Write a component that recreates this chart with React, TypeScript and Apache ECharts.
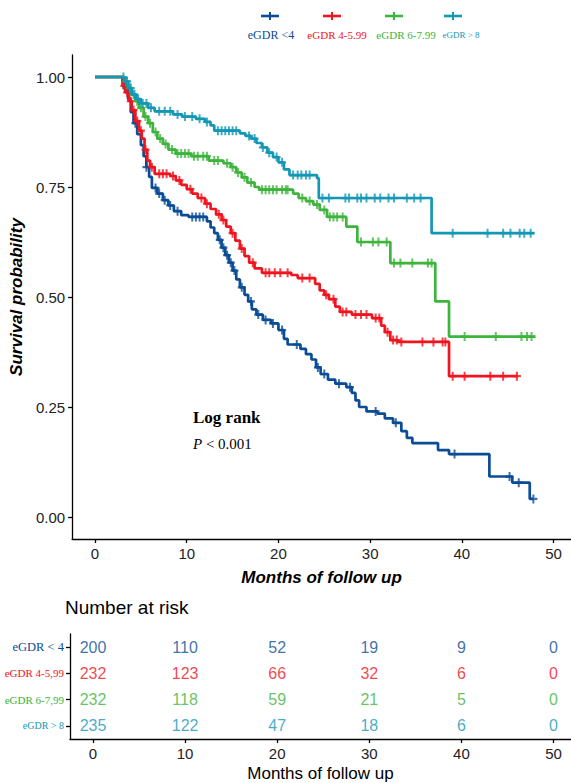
import React, { useEffect, useRef } from "react";
import * as echarts from "echarts";

// ---------- data ----------
const groupNames = ["eGDR <4", "eGDR 4-5.99", "eGDR 6-7.99", "eGDR > 8"];
const riskRowNames = ["eGDR < 4", "eGDR 4-5,99", "eGDR 6-7,99", "eGDR > 8"];
const groupColors = ["#0B4C96", "#F0141E", "#3DB43C", "#1397B5"];

const xTicks = [0, 10, 20, 30, 40, 50];
const yTicks = [0, 0.25, 0.5, 0.75, 1];

// Kaplan-Meier step points [month, survival]
const curveLt4 = [
  [0, 1], [3.0, 0.99], [3.3, 0.975], [3.6, 0.95], [3.9, 0.92], [4.2, 0.895], [4.6, 0.87], [5.0, 0.845],
  [5.3, 0.82], [5.6, 0.795], [5.9, 0.773], [6.2, 0.748], [6.8, 0.735], [7.4, 0.72], [8.0, 0.708],
  [8.6, 0.695], [9.4, 0.686], [10.2, 0.682], [12.2, 0.672], [12.6, 0.658], [13.0, 0.645], [13.4, 0.63],
  [13.8, 0.612], [14.2, 0.595], [14.6, 0.578], [15.0, 0.56], [15.4, 0.54], [15.8, 0.522], [16.3, 0.505],
  [16.7, 0.49], [17.1, 0.472], [17.6, 0.46], [18.3, 0.448], [19.2, 0.44], [20.0, 0.425], [20.6, 0.405],
  [21.0, 0.392], [22.4, 0.382], [23.0, 0.37], [23.6, 0.358], [24.1, 0.34], [24.6, 0.325], [25.4, 0.312],
  [26.2, 0.303], [27.4, 0.295], [28.0, 0.282], [28.4, 0.265], [28.8, 0.25], [29.6, 0.24], [30.8, 0.235],
  [31.6, 0.224], [32.5, 0.214], [33.4, 0.195], [34.0, 0.18], [34.6, 0.168], [37.4, 0.152], [38.6, 0.143],
  [43.0, 0.092], [45.5, 0.078], [47.4, 0.041], [47.8, 0.041],
];
const curve4to6 = [
  [0, 1], [3.0, 0.98], [3.3, 0.965], [3.7, 0.945], [4.0, 0.925], [4.4, 0.9], [4.8, 0.878], [5.1, 0.86],
  [5.4, 0.835], [5.7, 0.81], [6.0, 0.795], [6.5, 0.78], [8.2, 0.775], [8.8, 0.765], [9.4, 0.755],
  [10.0, 0.745], [10.6, 0.735], [11.2, 0.725], [12.0, 0.712], [12.6, 0.7], [13.2, 0.688], [13.8, 0.675],
  [14.3, 0.66], [14.8, 0.645], [15.3, 0.628], [15.8, 0.61], [16.3, 0.593], [16.8, 0.578], [17.4, 0.565],
  [18.2, 0.555], [21.4, 0.55], [22.1, 0.543], [24.0, 0.53], [24.5, 0.515], [25.0, 0.505], [25.5, 0.495],
  [26.2, 0.478], [26.7, 0.466], [28.0, 0.46], [30.2, 0.452], [31.2, 0.435], [31.6, 0.42], [32.2, 0.402],
  [33.0, 0.398], [38.6, 0.32], [46.1, 0.32],
];
const curve6to8 = [
  [0, 1], [3.2, 0.99], [3.6, 0.975], [4.0, 0.96], [4.4, 0.945], [4.8, 0.93], [5.3, 0.91], [5.8, 0.895],
  [6.3, 0.875], [6.8, 0.86], [7.4, 0.848], [8.0, 0.835], [8.8, 0.826], [10.5, 0.82], [12.4, 0.81],
  [14.0, 0.804], [14.8, 0.795], [15.4, 0.783], [16.0, 0.772], [16.6, 0.76], [17.4, 0.75], [17.9, 0.744],
  [21.6, 0.735], [22.2, 0.725], [23.0, 0.718], [23.8, 0.71], [24.5, 0.698], [25.3, 0.682], [27.4, 0.66],
  [28.6, 0.625], [32.2, 0.577], [37.1, 0.49], [38.6, 0.41], [48.0, 0.41],
];
const curveGt8 = [
  [0, 1], [3.2, 0.99], [3.6, 0.975], [4.0, 0.96], [4.5, 0.95], [5.0, 0.94], [5.8, 0.93], [6.5, 0.922],
  [8.5, 0.915], [9.5, 0.91], [11.0, 0.905], [12.0, 0.898], [12.6, 0.89], [13.0, 0.878], [15.8, 0.872],
  [16.4, 0.866], [17.0, 0.86], [17.6, 0.85], [18.2, 0.84], [18.8, 0.828], [19.4, 0.818], [20.0, 0.806],
  [20.6, 0.79], [21.2, 0.777], [24.2, 0.77], [24.4, 0.725], [36.7, 0.645], [47.9, 0.645],
];

// censoring times (months)
const censorLt4 = [3.4, 4.4, 5.6, 6.6, 7.0, 7.6, 8.2, 9.0, 10.6, 11.0, 11.4, 11.8, 13.6, 14.0, 14.4, 14.8, 15.2,
  16.0, 17.0, 17.8, 18.6, 19.4, 20.4, 22.0, 24.3, 25.0, 26.6, 27.8, 30.6, 32.8, 39.2, 45.2, 46.2, 47.8];
const censor4to6 = [3.2, 3.5, 3.9, 4.2, 4.6, 5.0, 5.5, 6.2, 7.0, 7.4, 7.8, 8.5, 9.2, 10.4, 11.6, 12.2, 13.5, 14.0,
  15.0, 16.0, 17.2, 18.6, 19.0, 19.6, 20.2, 21.0, 22.6, 23.4, 25.2, 26.0, 27.0, 27.4, 28.4, 29.0, 29.6, 30.6,
  31.0, 31.9, 32.5, 32.9, 33.4, 35.7, 36.9, 37.9, 38.2, 39.0, 40.3, 43.1, 44.5, 46.0];
const censor6to8 = [3.4, 3.8, 4.2, 4.6, 5.0, 5.5, 6.0, 6.6, 7.1, 7.7, 8.4, 9.0, 9.4, 9.8, 10.2, 10.8, 11.2, 11.8,
  12.2, 13.0, 13.4, 14.4, 15.0, 15.6, 16.3, 17.0, 18.2, 18.6, 19.0, 19.4, 19.8, 20.4, 20.8, 21.0, 22.6, 23.4,
  24.2, 25.0, 25.6, 26.0, 26.4, 27.0, 29.0, 30.3, 30.9, 31.8, 32.6, 33.3, 34.6, 36.3, 36.7, 40.3, 43.7, 46.5,
  47.1, 47.6];
const censorGt8 = [3.1, 3.5, 3.9, 4.3, 4.7, 5.2, 5.6, 6.1, 7.0, 7.6, 8.2, 9.0, 9.8, 10.6, 11.4, 12.2, 13.4, 13.8,
  14.2, 14.6, 15.0, 15.4, 16.8, 17.4, 18.3, 19.0, 19.8, 20.4, 21.6, 22.1, 22.5, 23.0, 23.4, 24.8, 25.5, 27.3,
  27.7, 28.6, 29.0, 29.6, 30.5, 31.1, 32.0, 32.6, 34.0, 34.8, 35.5, 39.0, 42.8, 44.5, 45.3, 46.3, 46.8, 47.5];

// number at risk
const riskTimes = [0, 10, 20, 30, 40, 50];
const riskLt4 = [200, 110, 52, 19, 9, 0];
const risk4to6 = [232, 123, 66, 32, 6, 0];
const risk6to8 = [232, 118, 59, 21, 5, 0];
const riskGt8 = [235, 122, 47, 18, 6, 0];

const curves = [curveLt4, curve4to6, curve6to8, curveGt8];
const censors = [censorLt4, censor4to6, censor6to8, censorGt8];
const risks = [riskLt4, risk4to6, risk6to8, riskGt8];

function survivalAt(curve: number[][], t: number): number {
  let s = 1;
  for (const [ti, si] of curve) {
    if (ti <= t) s = si;
    else break;
  }
  return s;
}

const SANS = "Liberation Sans";
const SERIF = "Liberation Serif";
const PLUS = "path://M3,0h2v3h3v2h-3v3h-2v-3h-3v-2h3z";

export default function App() {
  const ref = useRef<HTMLDivElement>(null);
  useEffect(() => {
    if (!ref.current) return;
    const chart = echarts.init(ref.current, null, { renderer: "svg" });

    const lineSeries = curves.map((c, i) => ({
      type: "line",
      name: groupNames[i],
      xAxisIndex: 0,
      yAxisIndex: 0,
      data: c,
      step: "end",
      showSymbol: false,
      symbol: "none",
      lineStyle: { color: groupColors[i], width: 2.7 },
      z: 2 + i,
      silent: true,
    }));
    const censorSeries = censors.map((cs, i) => ({
      type: "scatter",
      xAxisIndex: 0,
      yAxisIndex: 0,
      data: cs.map((t) => [t, survivalAt(curves[i], t)]),
      symbol: PLUS,
      symbolSize: [8, 9],
      itemStyle: { color: groupColors[i] },
      z: 2 + i,
      silent: true,
    }));
    const riskSeries = risks.map((r, i) => ({
      type: "scatter",
      xAxisIndex: 1,
      yAxisIndex: 1,
      data: r.map((v, k) => ({ value: [riskTimes[k], riskRowNames[i]], count: v })),
      symbol: "circle",
      symbolSize: 2,
      itemStyle: { color: "rgba(0,0,0,0)" },
      label: {
        show: true,
        position: "inside",
        formatter: (p: any) => String(r[p.dataIndex]),
        color: groupColors[i],
        fontSize: 16,
        fontFamily: SANS,
      },
      silent: true,
    }));

    const legendSymbolX = [270, 332, 394, 453];
    const legendLabelX = [271, 337, 406, 461];
    const legendFont = [12, 11, 11, 9];
    const legendGraphics: any[] = [];
    groupNames.forEach((n, i) => {
      legendGraphics.push({
        type: "line",
        shape: { x1: legendSymbolX[i] - 9, y1: 16, x2: legendSymbolX[i] + 9, y2: 16 },
        style: { stroke: groupColors[i], lineWidth: 2.6 },
      });
      legendGraphics.push({
        type: "rect",
        shape: { x: legendSymbolX[i] - 1, y: 12, width: 2, height: 8 },
        style: { fill: groupColors[i] },
      });
      legendGraphics.push({
        type: "text",
        x: legendLabelX[i],
        y: 35,
        style: {
          text: n,
          fill: groupColors[i],
          font: `${legendFont[i]}px "${SERIF}"`,
          align: "center",
          verticalAlign: "middle",
        },
      });
    });

    const rowRich: any = {};
    riskRowNames.forEach((n, i) => {
      rowRich["r" + i] = {
        color: groupColors[i],
        fontFamily: SERIF,
        fontSize: [12.5, 11, 11, 10][i],
      };
    });

    const axisLineStyle = { color: "#000", width: 1.3 };

    chart.setOption({
      animation: false,
      backgroundColor: "#fff",
      grid: [
        { left: 70, right: 0, top: 55, height: 484 },
        { left: 70, right: 0, top: 634, height: 108 },
      ],
      xAxis: [
        {
          type: "value",
          gridIndex: 0,
          min: -2.5,
          max: 51.9,
          axisLine: { show: true, onZero: false, lineStyle: axisLineStyle },
          axisTick: { show: true, length: 4, customValues: xTicks, lineStyle: axisLineStyle },
          axisLabel: { customValues: xTicks, fontSize: 15, color: "#222", fontFamily: SANS, margin: 7 },
          splitLine: { show: false },
          name: "Months of follow up",
          nameLocation: "middle",
          nameGap: 30,
          nameTextStyle: { fontWeight: "bold", fontStyle: "italic", fontSize: 17, color: "#000", fontFamily: SANS },
        },
        {
          type: "value",
          gridIndex: 1,
          min: -2.5,
          max: 51.9,
          axisLine: { show: true, onZero: false, lineStyle: axisLineStyle },
          axisTick: { show: true, length: 4, customValues: xTicks, lineStyle: axisLineStyle },
          axisLabel: { customValues: xTicks, fontSize: 15, color: "#222", fontFamily: SANS, margin: 7 },
          splitLine: { show: false },
          name: "Months of follow up",
          nameLocation: "middle",
          nameGap: 26,
          nameTextStyle: { fontSize: 17, color: "#000", fontFamily: SANS },
        },
      ],
      yAxis: [
        {
          type: "value",
          gridIndex: 0,
          min: -0.05,
          max: 1.05,
          axisLine: { show: true, onZero: false, lineStyle: axisLineStyle },
          axisTick: { show: true, length: 4, customValues: yTicks, lineStyle: axisLineStyle },
          axisLabel: {
            customValues: yTicks,
            fontSize: 15,
            color: "#222",
            fontFamily: SANS,
            margin: 7,
            formatter: (v: number) => v.toFixed(2),
          },
          splitLine: { show: false },
          name: "Survival probability",
          nameLocation: "middle",
          nameGap: 42,
          nameTextStyle: { fontWeight: "bold", fontStyle: "italic", fontSize: 17, color: "#000", fontFamily: SANS },
        },
        {
          type: "category",
          gridIndex: 1,
          data: [...riskRowNames].reverse(),
          axisLine: { show: true, onZero: false, lineStyle: axisLineStyle },
          axisTick: { show: true, length: 4, alignWithLabel: true, lineStyle: axisLineStyle },
          axisLabel: {
            margin: 6,
            formatter: (v: string) => `{r${riskRowNames.indexOf(v)}|${v}}`,
            rich: rowRich,
          },
          splitLine: { show: false },
        },
      ],
      graphic: [
        ...legendGraphics,
        {
          type: "text",
          x: 193,
          y: 417,
          style: { text: "Log rank", font: `bold 17px "${SERIF}"`, fill: "#000", verticalAlign: "middle" },
        },
        {
          type: "text",
          x: 193,
          y: 444,
          style: {
            text: "{i|P} < 0.001",
            verticalAlign: "middle",
            font: `15px "${SERIF}"`,
            fill: "#000",
            rich: { i: { fontStyle: "italic", fontFamily: SERIF, fontSize: 15, fill: "#000" } },
          },
        },
        {
          type: "text",
          x: 65,
          y: 607,
          style: { text: "Number at risk", font: `19px "${SANS}"`, fill: "#000", verticalAlign: "middle" },
        },
      ],
      series: [...lineSeries, ...censorSeries, ...riskSeries],
    } as any);

    return () => chart.dispose();
  }, []);

  return (
    <div
      ref={ref}
      style={{ position: "fixed", left: 0, top: 0, width: 571, height: 783, background: "#fff" }}
    />
  );
}
